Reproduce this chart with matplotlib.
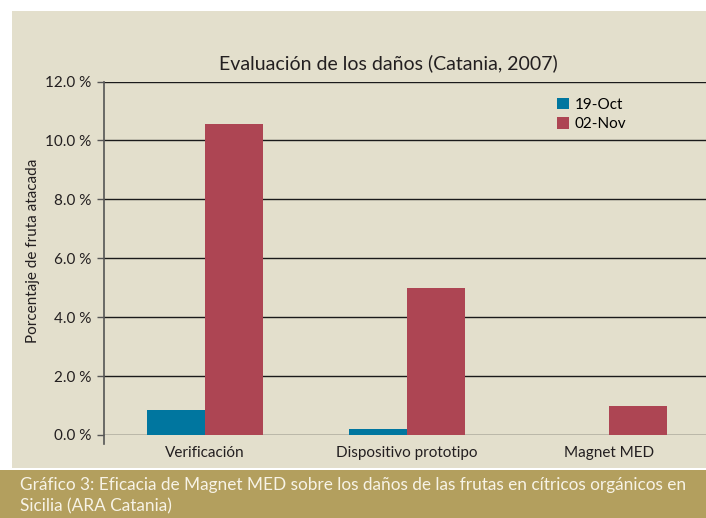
import matplotlib.pyplot as plt
import numpy as np
from matplotlib.patches import Rectangle

categories = ["Verificación", "Dispositivo prototipo", "Magnet MED"]
oct_19 = [0.85, 0.2, 0.0]
nov_02 = [10.56, 5.0, 1.0]
series_labels = ["19-Oct", "02-Nov"]
y_ticks = [0, 2, 4, 6, 8, 10, 12]

title = "Evaluación de los daños (Catania, 2007)"
y_label = "Porcentaje de fruta atacada"
caption = ("Gráfico 3: Eficacia de Magnet MED sobre los daños de las frutas en cítricos orgánicos en\n"
           "Sicilia (ARA Catania)")

BLUE = "#00769f"
RED = "#ad4553"
PANEL = "#e3dfcc"
BAND = "#b39f5e"
TEXT = "#231f20"

plt.rcParams["font.family"] = ["Lato", "DejaVu Sans"]

W, H = 706, 518
fig = plt.figure(figsize=(W / 100, H / 100), dpi=100)
fig.patch.set_facecolor("white")

# beige panel and caption band
fig.add_artist(Rectangle((12 / W, (H - 468) / H), 1 - 12 / W, (468 - 11) / H,
                         transform=fig.transFigure, facecolor=PANEL, edgecolor="none", zorder=0))
fig.add_artist(Rectangle((0, 0), 1, (H - 470) / H,
                         transform=fig.transFigure, facecolor=BAND, edgecolor="none", zorder=0))
fig.text(20 / W, (H - 477) / H, caption, color="#f7f3e6", fontsize=12.4,
         va="top", ha="left", linespacing=1.38)

ax = fig.add_axes([104 / W, 83 / H, 606 / W, 353.5 / H])
ax.set_facecolor("none")

x = np.arange(len(categories))
width = 0.285
ax.bar(x - width / 2, oct_19, width, color=BLUE, label=series_labels[0], zorder=3)
ax.bar(x + width / 2, nov_02, width, color=RED, label=series_labels[1], zorder=3)

ax.set_xlim(-0.5, 2.5)
ax.set_ylim(0, 12)
ax.set_yticks(y_ticks)
ax.set_yticklabels([f"{v:.1f} %" for v in y_ticks], fontsize=11, color=TEXT)
ax.set_xticks(x)
ax.set_xticklabels(categories, fontsize=11, color=TEXT)
ax.tick_params(axis="x", length=0, pad=8)
ax.tick_params(axis="y", length=5, width=1, color="#555555", pad=4)
ax.grid(axis="y", color="#1a1a1a", linewidth=1.0, zorder=1)

for side in ["top", "right", "bottom"]:
    ax.spines[side].set_visible(False)
ax.spines["left"].set_color("#555555")
ax.spines["left"].set_linewidth(1.2)
ax.spines["left"].set_bounds(-0.3, 12)

ax.set_title(title, fontsize=14, color=TEXT, pad=9, x=0.47)
ax.set_ylabel(y_label, fontsize=11, color=TEXT)
ax.yaxis.set_label_coords(-0.105, 0.52)

ax.legend(loc="upper left", bbox_to_anchor=(0.735, 0.975), frameon=False,
          fontsize=11, handlelength=0.75, handleheight=0.75, handletextpad=0.4,
          labelspacing=0.35, borderpad=0)

fig.savefig("out.png", dpi=100, facecolor=fig.get_facecolor())
